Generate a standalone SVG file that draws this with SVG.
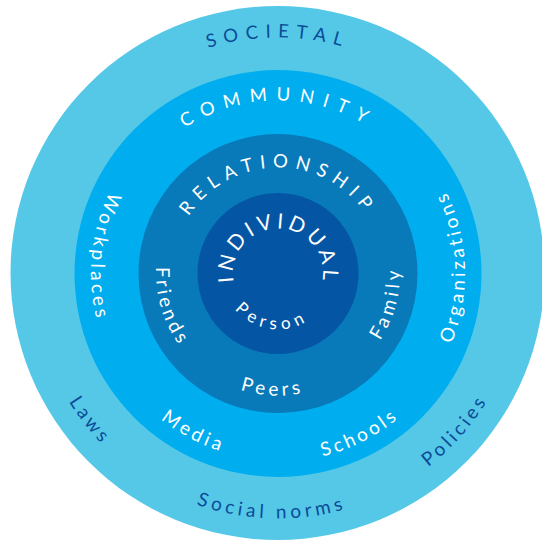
<svg xmlns="http://www.w3.org/2000/svg" width="542" height="540" viewBox="0 0 542 540">
  <style>
    .t { font-family: Lato, "Noto Sans", "Liberation Sans", sans-serif; font-size: 19px; fill: #ffffff; }
    .dark { fill: #0b4c97; }
    .title { font-size: 18.5px; }
  </style>
  <defs>
    <path id="pSocietal" d="M45.6,314.5 A236,236 0 1 1 510.4,314.5"/>
    <path id="pCommunity" d="M107.6,303.5 A173,173 0 1 1 448.4,303.5"/>
    <path id="pRelationship" d="M173.6,291.9 A106,106 0 1 1 382.4,291.9"/>
    <path id="pIndividual" d="M233.7,281.3 A45,45 0 1 1 322.3,281.3"/>
    <path id="pPerson" d="M224.7,256.2 A56,56 0 1 0 334.0,271.5"/>
    <path id="pPeers" d="M159.0,246.7 A122,122 0 1 0 399.0,258.0"/>
    <path id="pFriends" d="M263.1,152.4 A122,122 0 1 0 333.4,382.2"/>
    <path id="pFamily" d="M226.4,384.1 A122,122 0 1 0 288.6,152.0"/>
    <path id="pWorkplaces" d="M328.0,93.3 A187,187 0 1 0 292.7,459.9"/>
    <path id="pOrganizations" d="M252.9,458.8 A187,187 0 1 0 238.2,90.8"/>
    <path id="pMedia" d="M130.6,158.4 A187,187 0 1 0 455.9,331.3"/>
    <path id="pSchools" d="M98.2,328.5 A188,188 0 1 0 428.1,160.4"/>
    <path id="pLaws" d="M163.0,57.2 A245,245 0 1 0 460.1,437.4"/>
    <path id="pPolicies" d="M86.0,425.7 A245,245 0 1 0 406.4,64.8"/>
    <path id="pSocialNorms" d="M37.9,224.6 A245,245 0 1 0 520.3,237.3"/>
  </defs>

  <g id="societal">
    <circle cx="277.5" cy="273" r="267" fill="#55c8e8"/>
    <text class="t dark title" letter-spacing="7.2"><textPath href="#pSocietal" startOffset="50%" text-anchor="middle">SOCIETAL</textPath></text>
    <text class="t dark" letter-spacing="3.5"><textPath href="#pLaws" startOffset="50%" text-anchor="middle">Laws</textPath></text>
    <text class="t dark" letter-spacing="4"><textPath href="#pSocialNorms" startOffset="50%" text-anchor="middle">Social norms</textPath></text>
    <text class="t dark" letter-spacing="3.5"><textPath href="#pPolicies" startOffset="50%" text-anchor="middle">Policies</textPath></text>
  </g>

  <g id="community">
    <circle cx="278" cy="273.5" r="203.5" fill="#00aeef"/>
    <text class="t title" letter-spacing="9"><textPath href="#pCommunity" startOffset="50%" text-anchor="middle">COMMUNITY</textPath></text>
    <text class="t" letter-spacing="3.6"><textPath href="#pWorkplaces" startOffset="50%" text-anchor="middle">Workplaces</textPath></text>
    <text class="t" letter-spacing="3.4"><textPath href="#pOrganizations" startOffset="50%" text-anchor="middle">Organizations</textPath></text>
    <text class="t" letter-spacing="3.8"><textPath href="#pMedia" startOffset="50%" text-anchor="middle">Media</textPath></text>
    <text class="t" letter-spacing="3.3"><textPath href="#pSchools" startOffset="50%" text-anchor="middle">Schools</textPath></text>
  </g>

  <g id="relationship">
    <circle cx="278" cy="273.5" r="139.5" fill="#0879b9"/>
    <text class="t title" letter-spacing="7"><textPath href="#pRelationship" startOffset="50%" text-anchor="middle">RELATIONSHIP</textPath></text>
    <text class="t" letter-spacing="3.5"><textPath href="#pFriends" startOffset="50%" text-anchor="middle">Friends</textPath></text>
    <text class="t" letter-spacing="3.8"><textPath href="#pPeers" startOffset="50%" text-anchor="middle">Peers</textPath></text>
    <text class="t" letter-spacing="4.2"><textPath href="#pFamily" startOffset="50%" text-anchor="middle">Family</textPath></text>
  </g>

  <g id="individual">
    <circle cx="278" cy="273.5" r="80.5" fill="#0455a4"/>
    <text class="t" style="font-size:21px" letter-spacing="4"><textPath href="#pIndividual" startOffset="50.5%" text-anchor="middle">INDIVIDUAL</textPath></text>
    <text class="t" style="font-size:17px" letter-spacing="5.2"><textPath href="#pPerson" startOffset="50%" text-anchor="middle">Person</textPath></text>
  </g>

  <g id="connectors"></g>
</svg>
